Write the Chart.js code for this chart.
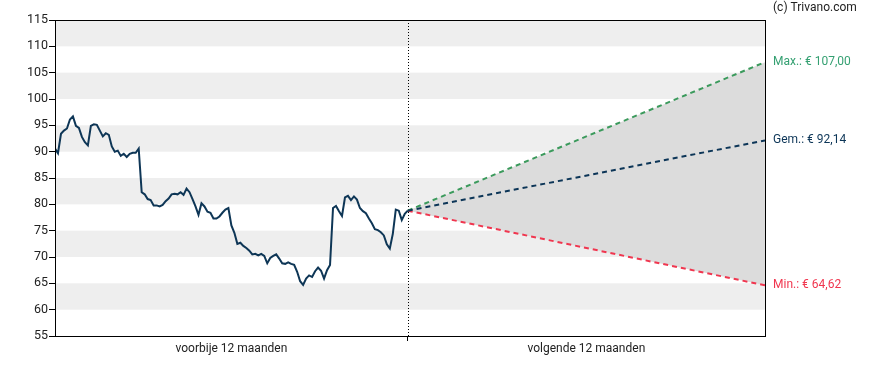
<!DOCTYPE html>
<html>
<head>
<meta charset="utf-8">
<script src="https://cdn.jsdelivr.net/npm/chart.js@4.4.1/dist/chart.umd.min.js"></script>
<style>
  html, body { margin: 0; padding: 0; background: #fff; }
  #wrap { width: 888px; height: 370px; }
</style>
</head>
<body>
<div id="wrap"><canvas id="koersChart" width="888" height="370"></canvas></div>
<script>
// koers voorbije 12 maanden (gelijk verdeeld)
const koers = [
    90.6, 89.7, 93.4, 94.0, 94.4, 96.1, 96.7, 94.9, 94.5, 92.8,
    91.8, 91.2, 94.9, 95.2, 95.1, 94.0, 92.9, 93.5, 93.2, 91.0,
    90.0, 90.2, 89.2, 89.6, 89.0, 89.6, 89.8, 89.8, 90.6, 82.3,
    81.9, 81.0, 80.8, 79.8, 79.8, 79.6, 79.9, 80.6, 81.1, 81.9,
    82.0, 81.9, 82.3, 81.8, 83.0, 82.3, 81.0, 79.6, 78.0, 80.2,
    79.6, 78.6, 78.4, 77.3, 77.3, 77.7, 78.4, 79.0, 79.3, 76.0,
    74.6, 72.5, 72.7, 72.1, 71.7, 71.2, 70.5, 70.6, 70.3, 70.6,
    70.2, 68.8, 69.8, 70.2, 70.5, 69.7, 68.8, 68.7, 69.0, 68.7,
    68.5, 67.2, 65.4, 64.7, 65.9, 66.5, 66.2, 67.3, 68.0, 67.4,
    65.9, 67.5, 68.5, 79.3, 79.7, 78.7, 77.8, 81.3, 81.6, 80.8,
    81.5, 80.9, 79.3, 78.7, 78.3, 77.3, 76.4, 75.3, 75.1, 74.7,
    74.1, 72.4, 71.6, 74.4, 79.0, 78.8, 77.0, 78.2, 78.8
];

// prognose volgende 12 maanden
const prognoseLabels = ['Max.', 'Gem.', 'Min.'];
const prognoseEind = [107.00, 92.14, 64.62];
const prognoseKleur = ['#3b9a5c', '#0c3557', '#f0364f'];
const tekstKleur = ['#35a072', '#0c3557', '#f0364f'];

const periodeLabels = ['voorbije 12 maanden', 'volgende 12 maanden'];
const yMin = 55, yMax = 115, yStap = 5;

const n = koers.length - 1;          // index van vandaag
const xMax = 2 * n + 1.5;
const start = koers[n];

function euro(v) {
    return '€ ' + v.toFixed(2).replace('.', ',');
}

const bandenPlugin = {
    id: 'banden',
    beforeDatasetsDraw(chart) {
        const { ctx, chartArea: a, scales: { x, y } } = chart;
        ctx.save();
        ctx.fillStyle = '#eeeeee';
        for (let v = yMin; v < yMax; v += yStap) {
            if (((v - yMin) / yStap) % 2 === 1) {
                const top = y.getPixelForValue(v + yStap);
                const bot = y.getPixelForValue(v);
                ctx.fillRect(a.left, top, a.right - a.left, bot - top);
            }
        }
        // stippellijn vandaag
        const xv = Math.round(x.getPixelForValue(n)) + 0.5;
        ctx.strokeStyle = '#000';
        ctx.lineWidth = 1;
        ctx.setLineDash([1, 2]);
        ctx.beginPath();
        ctx.moveTo(xv, a.top);
        ctx.lineTo(xv, a.bottom);
        ctx.stroke();
        ctx.restore();
    },
    afterDraw(chart) {
        const { ctx, chartArea: a, scales: { y } } = chart;
        ctx.save();
        ctx.strokeStyle = '#000';
        ctx.lineWidth = 1;
        ctx.strokeRect(a.left + 0.5, a.top + 0.5, a.right - a.left, a.bottom - a.top);
        ctx.font = '12px Roboto';
        ctx.textBaseline = 'middle';
        ctx.textAlign = 'left';
        prognoseLabels.forEach((l, i) => {
            ctx.fillStyle = tekstKleur[i];
            ctx.fillText(l + ': ' + euro(prognoseEind[i]), a.right + 8, y.getPixelForValue(prognoseEind[i]));
        });
        ctx.fillStyle = '#222';
        ctx.fillText('(c) Trivano.com', a.right + 8, 8);
        ctx.restore();
    }
};

const datasets = [{
    data: koers.map((v, i) => ({ x: i, y: v })),
    borderColor: '#0e3656',
    borderWidth: 2,
    pointRadius: 0,
    tension: 0,
    fill: false,
    order: 0
}];
prognoseLabels.forEach((l, i) => {
    datasets.push({
        data: [{ x: n, y: start }, { x: xMax, y: prognoseEind[i] }],
        borderColor: prognoseKleur[i],
        borderWidth: 2,
        borderDash: [5, 4],
        pointRadius: 0,
        fill: i === 0 ? 3 : false,
        backgroundColor: '#dcdcdc',
        order: i === 0 ? 10 : 1
    });
});

new Chart(document.getElementById('koersChart'), {
    type: 'line',
    data: { datasets: datasets },
    options: {
        responsive: false,
        animation: false,
        layout: { padding: { top: 20, right: 123, left: 0, bottom: 0 } },
        plugins: { legend: { display: false }, tooltip: { enabled: false } },
        scales: {
            x: {
                type: 'linear',
                min: 0,
                max: xMax,
                afterBuildTicks(scale) {
                    scale.ticks = [{ value: n / 2 }, { value: n }, { value: (n + xMax) / 2 }];
                },
                afterFit(scale) { scale.height = 34; },
                border: { display: true, color: '#000' },
                grid: {
                    drawOnChartArea: false,
                    tickLength: 5,
                    color: (c) => (c.tick && c.tick.value === n ? '#000' : 'rgba(0,0,0,0)')
                },
                ticks: {
                    padding: 1,
                    maxRotation: 0,
                    autoSkip: false,
                    color: '#222',
                    font: { family: 'Roboto', size: 12 },
                    callback: (v) => (v === n / 2 ? periodeLabels[0] : v === (n + xMax) / 2 ? periodeLabels[1] : '')
                }
            },
            y: {
                min: yMin,
                max: yMax,
                afterFit(scale) { scale.width = 55; },
                border: { display: true, color: '#000' },
                grid: { drawOnChartArea: false, tickLength: 6, color: '#000' },
                ticks: {
                    stepSize: yStap,
                    padding: 1,
                    color: '#222',
                    font: { family: 'Roboto', size: 12.5 }
                }
            }
        }
    },
    plugins: [bandenPlugin]
});
</script>
</body>
</html>
